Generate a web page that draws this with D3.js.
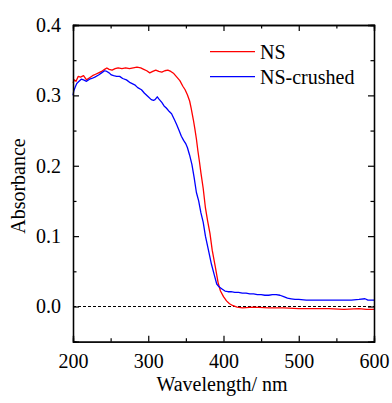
<!DOCTYPE html>
<html><head><meta charset="utf-8">
<script src="https://cdn.jsdelivr.net/npm/d3@7"></script>
<style>body{margin:0;background:#fff}svg{display:block}svg text{font-family:'Liberation Serif','Times New Roman',Times,'DejaVu Serif',serif !important;fill:#000}</style>
</head><body><svg id="c" width="392" height="403"></svg>
<script>
const seriesNames = ["NS", "NS-crushed"];
const seriesColors = ["#ff0000", "#0000ff"];
const nsWl  = [200,202,204,207,210,214,218,222,226,230,234,238,242,245,248,252,256,260,265,270,275,280,285,290,294,298,302,306,310,314,318,322,326,330,334,338,342,346,349,352,355,357,360,362,364,366,368,370,373,376,379,382,385,389,393,396,400,404,408,412,418,425,440,460,480,500,520,540,560,580,590,600];
const nsAbs = [0.318,0.322,0.320,0.327,0.326,0.328,0.322,0.325,0.328,0.330,0.332,0.334,0.337,0.339,0.337,0.336,0.338,0.339,0.338,0.339,0.338,0.339,0.340,0.339,0.337,0.335,0.332,0.334,0.336,0.334,0.333,0.335,0.336,0.334,0.331,0.326,0.321,0.313,0.308,0.301,0.292,0.282,0.265,0.252,0.238,0.221,0.206,0.190,0.168,0.140,0.121,0.104,0.080,0.057,0.033,0.022,0.014,0.008,0.004,0.0015,-0.001,-0.002,-0.001,-0.002,-0.002,-0.003,-0.003,-0.003,-0.004,-0.003,-0.004,-0.004];
const crWl  = [200,201,203,205,208,211,214,218,222,225,229,234,238,242,245,248,251,254,258,262,266,271,276,282,286,291,295,300,304,307,309,312,314,318,321,324,328,331,335,338,341,344,347,350,352,355,358,361,364,367,370,373,376,380,384,388,391,394,398,402,406,410,415,420,425,430,435,440,445,450,455,460,465,470,475,480,485,490,495,500,510,520,530,540,550,560,570,580,588,592,600];
const crAbs = [0.300,0.306,0.312,0.317,0.320,0.323,0.322,0.320,0.323,0.324,0.326,0.329,0.332,0.335,0.334,0.332,0.329,0.328,0.327,0.327,0.324,0.322,0.318,0.315,0.311,0.308,0.303,0.298,0.294,0.293,0.294,0.298,0.295,0.290,0.285,0.282,0.277,0.274,0.265,0.258,0.250,0.242,0.236,0.231,0.226,0.215,0.202,0.183,0.162,0.150,0.133,0.120,0.100,0.080,0.060,0.044,0.032,0.028,0.025,0.022,0.021,0.021,0.020,0.020,0.019,0.019,0.018,0.018,0.017,0.017,0.016,0.016,0.017,0.017,0.016,0.014,0.012,0.011,0.010,0.010,0.009,0.009,0.009,0.009,0.009,0.009,0.009,0.010,0.011,0.009,0.009];
const xTicks = [200,300,400,500,600];
const xMinor = [250,350,450,550];
const yTicks = [0.0,0.1,0.2,0.3,0.4];
const yMinor = [-0.05,0.05,0.15,0.25,0.35];
const xTitle = "Wavelength/ nm";
const yTitle = "Absorbance";

const FONT="'Liberation Serif','Times New Roman',Times,'DejaVu Serif',serif";
const L=73,T=25,R=374,B=341.7;
const svg=d3.select("#c");
const x=d3.scaleLinear().domain([200,600]).range([L,R]);
const y=d3.scaleLinear().domain([-0.05,0.4]).range([B,T]);
const FS=20;

svg.append("line").attr("x1",L).attr("x2",R).attr("y1",y(0)).attr("y2",y(0))
  .attr("stroke","#000").attr("stroke-width",1).attr("stroke-dasharray","3,2");

const line=d3.line().x(d=>x(d[0])).y(d=>y(d[1]));
const sets=[d3.zip(nsWl,nsAbs), d3.zip(crWl,crAbs)];
sets.forEach((s,i)=>{
  svg.append("path").datum(s).attr("d",line).attr("fill","none")
    .attr("stroke",seriesColors[i]).attr("stroke-width",1.3).attr("stroke-linejoin","round");
});

function style(g){g.attr("font-family",FONT);
  g.select(".domain").attr("stroke","#000").attr("stroke-width",1.3);
  g.selectAll(".tick line").attr("stroke","#000").attr("stroke-width",1.2);
  g.selectAll("text").attr("font-size",FS).attr("font-family",FONT);}
svg.append("g").attr("transform",`translate(0,${B})`)
  .call(d3.axisBottom(x).tickValues(xTicks).tickSize(-6).tickPadding(12).tickFormat(d3.format("d"))).call(style);
svg.append("g").attr("transform",`translate(0,${B})`)
  .call(d3.axisBottom(x).tickValues(xMinor).tickSize(-3.5).tickFormat("")).call(style);
svg.append("g").attr("transform",`translate(0,${T})`)
  .call(d3.axisTop(x).tickValues(xTicks).tickSize(-6).tickFormat("")).call(style);
svg.append("g").attr("transform",`translate(0,${T})`)
  .call(d3.axisTop(x).tickValues(xMinor).tickSize(-3.5).tickFormat("")).call(style);
svg.append("g").attr("transform",`translate(${L},0)`)
  .call(d3.axisLeft(y).tickValues(yTicks).tickSize(-6).tickPadding(12).tickFormat(d3.format(".1f"))).call(style);
svg.append("g").attr("transform",`translate(${L},0)`)
  .call(d3.axisLeft(y).tickValues(yMinor).tickSize(-3.5).tickFormat("")).call(style);
svg.append("g").attr("transform",`translate(${R},0)`)
  .call(d3.axisRight(y).tickValues(yTicks).tickSize(-6).tickFormat("")).call(style);
svg.append("g").attr("transform",`translate(${R},0)`)
  .call(d3.axisRight(y).tickValues(yMinor).tickSize(-3.5).tickFormat("")).call(style);

svg.append("text").attr("x",222).attr("y",391).attr("text-anchor","middle").attr("font-family",FONT).attr("font-size",FS).text(xTitle);
svg.append("text").attr("transform",`translate(25,186) rotate(-90)`).attr("text-anchor","middle").attr("font-family",FONT).attr("font-size",FS).text(yTitle);

seriesNames.forEach((n,i)=>{
  const ly=51.7+i*25;
  svg.append("line").attr("x1",210).attr("x2",255).attr("y1",ly).attr("y2",ly)
    .attr("stroke",seriesColors[i]).attr("stroke-width",1.3);
  svg.append("text").attr("x",260).attr("y",ly).attr("dy","0.35em").attr("font-family",FONT).attr("font-size",FS).text(n);
});
</script></body></html>
